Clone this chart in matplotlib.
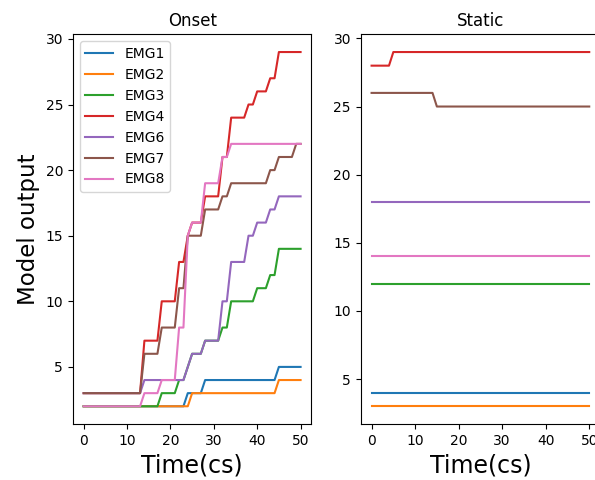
import matplotlib
matplotlib.use("Agg")
import matplotlib.pyplot as plt

# Time axis (cs), one sample per step
TIME = list(range(51))

LABELS = ["EMG1", "EMG2", "EMG3", "EMG4", "EMG6", "EMG7", "EMG8"]

# Onset panel — model output per channel
ONSET_EMG1 = [2, 2, 2, 2, 2, 2, 2, 2, 2, 2,
              2, 2, 2, 2, 2, 2, 2, 2, 2, 2,
              2, 2, 2, 2, 3, 3, 3, 3, 4, 4,
              4, 4, 4, 4, 4, 4, 4, 4, 4, 4,
              4, 4, 4, 4, 4, 5, 5, 5, 5, 5,
              5]
ONSET_EMG2 = [2, 2, 2, 2, 2, 2, 2, 2, 2, 2,
              2, 2, 2, 2, 2, 2, 2, 2, 2, 2,
              2, 2, 2, 2, 2, 3, 3, 3, 3, 3,
              3, 3, 3, 3, 3, 3, 3, 3, 3, 3,
              3, 3, 3, 3, 3, 4, 4, 4, 4, 4,
              4]
ONSET_EMG3 = [2, 2, 2, 2, 2, 2, 2, 2, 2, 2,
              2, 2, 2, 2, 2, 2, 2, 2, 3, 3,
              3, 3, 4, 4, 5, 6, 6, 6, 7, 7,
              7, 7, 8, 8, 10, 10, 10, 10, 10, 10,
              11, 11, 11, 12, 12, 14, 14, 14, 14, 14,
              14]
ONSET_EMG4 = [3, 3, 3, 3, 3, 3, 3, 3, 3, 3,
              3, 3, 3, 3, 7, 7, 7, 7, 10, 10,
              10, 10, 13, 13, 15, 16, 16, 16, 18, 18,
              18, 18, 21, 21, 24, 24, 24, 24, 25, 25,
              26, 26, 26, 27, 27, 29, 29, 29, 29, 29,
              29]
ONSET_EMG6 = [3, 3, 3, 3, 3, 3, 3, 3, 3, 3,
              3, 3, 3, 3, 4, 4, 4, 4, 4, 4,
              4, 4, 4, 4, 5, 6, 6, 6, 7, 7,
              7, 7, 10, 10, 13, 13, 13, 13, 15, 15,
              16, 16, 16, 17, 17, 18, 18, 18, 18, 18,
              18]
ONSET_EMG7 = [3, 3, 3, 3, 3, 3, 3, 3, 3, 3,
              3, 3, 3, 3, 6, 6, 6, 6, 8, 8,
              8, 8, 11, 11, 15, 15, 15, 15, 17, 17,
              17, 17, 18, 18, 19, 19, 19, 19, 19, 19,
              19, 19, 19, 20, 20, 21, 21, 21, 21, 22,
              22]
ONSET_EMG8 = [2, 2, 2, 2, 2, 2, 2, 2, 2, 2,
              2, 2, 2, 2, 3, 3, 3, 3, 4, 4,
              4, 4, 8, 8, 15, 16, 16, 16, 19, 19,
              19, 19, 21, 21, 22, 22, 22, 22, 22, 22,
              22, 22, 22, 22, 22, 22, 22, 22, 22, 22,
              22]

# Static panel — model output per channel
STATIC_EMG1 = [4, 4, 4, 4, 4, 4, 4, 4, 4, 4,
               4, 4, 4, 4, 4, 4, 4, 4, 4, 4,
               4, 4, 4, 4, 4, 4, 4, 4, 4, 4,
               4, 4, 4, 4, 4, 4, 4, 4, 4, 4,
               4, 4, 4, 4, 4, 4, 4, 4, 4, 4,
               4]
STATIC_EMG2 = [3, 3, 3, 3, 3, 3, 3, 3, 3, 3,
               3, 3, 3, 3, 3, 3, 3, 3, 3, 3,
               3, 3, 3, 3, 3, 3, 3, 3, 3, 3,
               3, 3, 3, 3, 3, 3, 3, 3, 3, 3,
               3, 3, 3, 3, 3, 3, 3, 3, 3, 3,
               3]
STATIC_EMG3 = [12, 12, 12, 12, 12, 12, 12, 12, 12, 12,
               12, 12, 12, 12, 12, 12, 12, 12, 12, 12,
               12, 12, 12, 12, 12, 12, 12, 12, 12, 12,
               12, 12, 12, 12, 12, 12, 12, 12, 12, 12,
               12, 12, 12, 12, 12, 12, 12, 12, 12, 12,
               12]
STATIC_EMG4 = [28, 28, 28, 28, 28, 29, 29, 29, 29, 29,
               29, 29, 29, 29, 29, 29, 29, 29, 29, 29,
               29, 29, 29, 29, 29, 29, 29, 29, 29, 29,
               29, 29, 29, 29, 29, 29, 29, 29, 29, 29,
               29, 29, 29, 29, 29, 29, 29, 29, 29, 29,
               29]
STATIC_EMG6 = [18, 18, 18, 18, 18, 18, 18, 18, 18, 18,
               18, 18, 18, 18, 18, 18, 18, 18, 18, 18,
               18, 18, 18, 18, 18, 18, 18, 18, 18, 18,
               18, 18, 18, 18, 18, 18, 18, 18, 18, 18,
               18, 18, 18, 18, 18, 18, 18, 18, 18, 18,
               18]
STATIC_EMG7 = [26, 26, 26, 26, 26, 26, 26, 26, 26, 26,
               26, 26, 26, 26, 26, 25, 25, 25, 25, 25,
               25, 25, 25, 25, 25, 25, 25, 25, 25, 25,
               25, 25, 25, 25, 25, 25, 25, 25, 25, 25,
               25, 25, 25, 25, 25, 25, 25, 25, 25, 25,
               25]
STATIC_EMG8 = [14, 14, 14, 14, 14, 14, 14, 14, 14, 14,
               14, 14, 14, 14, 14, 14, 14, 14, 14, 14,
               14, 14, 14, 14, 14, 14, 14, 14, 14, 14,
               14, 14, 14, 14, 14, 14, 14, 14, 14, 14,
               14, 14, 14, 14, 14, 14, 14, 14, 14, 14,
               14]

ONSET = [ONSET_EMG1, ONSET_EMG2, ONSET_EMG3, ONSET_EMG4,
         ONSET_EMG6, ONSET_EMG7, ONSET_EMG8]
STATIC = [STATIC_EMG1, STATIC_EMG2, STATIC_EMG3, STATIC_EMG4,
          STATIC_EMG6, STATIC_EMG7, STATIC_EMG8]


def main():
    fig = plt.figure(figsize=(5.95, 4.8), dpi=100)
    # Right panel runs slightly past the canvas edge, as in the original.
    ax1 = fig.add_axes([0.1224, 0.1167, 0.4010, 0.8118])
    ax2 = fig.add_axes([0.6062, 0.1167, 0.4024, 0.8118])

    for label, ys in zip(LABELS, ONSET):
        ax1.plot(TIME, ys, label=label)
    for label, ys in zip(LABELS, STATIC):
        ax2.plot(TIME, ys, label=label)

    ax1.set_title("Onset")
    ax2.set_title("Static")
    ax1.set_ylabel("Model output", fontsize=16.5)
    for ax in (ax1, ax2):
        ax.set_xlabel("Time(cs)", fontsize=17)
        ax.set_xticks([0, 10, 20, 30, 40, 50])
        ax.set_yticks([5, 10, 15, 20, 25, 30])
    ax1.legend(loc="upper left")

    fig.savefig("out.png", dpi=100)
    plt.close(fig)


if __name__ == "__main__":
    main()
